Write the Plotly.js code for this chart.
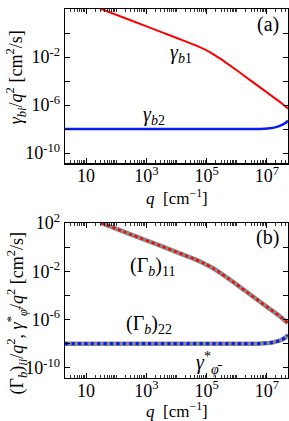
<!DOCTYPE html>
<html>
<head>
<meta charset="utf-8">
<script src="https://cdn.plot.ly/plotly-3.0.1.min.js"></script>
<style>html,body{margin:0;padding:0;background:#fff;}#chart{width:289px;height:421px;}</style>
</head>
<body>
<div id="chart"></div>
<script>
// ---- data ----
const qB1 = [31.6, 316, 3162, 19953, 39811, 79433, 158489, 281838, 562341, 1e6, 3.16e6, 1e7, 3.16e7, 5.0e7];
const gammaB1 = [100, 11, 1.2, 0.20, 0.102, 0.047, 0.0186, 7.4e-3, 2.2e-3, 7.8e-4, 9.3e-5, 1.12e-5, 1.35e-6, 5.0e-7];
const qB2 = [2, 1e3, 1e6, 5.0e6, 7.9e6, 1.26e7, 2.0e7, 2.8e7, 4.0e7, 5.0e7];
const gammaB2 = [1e-8, 1e-8, 1e-8, 1.0e-8, 1.05e-8, 1.15e-8, 1.45e-8, 1.9e-8, 3.0e-8, 5.0e-8];

const xTickVals = [10, 1e3, 1e5, 1e7];
const xTickText = ['10', '10<sup>3</sup>', '10<sup>5</sup>', '10<sup>7</sup>'];
const yTickVals = [1e2, 1e-2, 1e-6, 1e-10];
const yTickText = ['10<sup>2</sup>', '10<sup>-2</sup>', '10<sup>-6</sup>', '10<sup>-10</sup>'];
const yMinorVals = [1, 1e-4, 1e-8];

// minor x tick positions: unlabeled decades and 2..9 within each decade
const xMinor = [100, 1e4, 1e6];
for (let e = 0; e <= 7; e++) for (let m = 2; m <= 9; m++) xMinor.push(m * Math.pow(10, e));

const FONT = 'Liberation Serif, Times New Roman, serif';
const RED = '#ff0000', BLUE = '#0a1cf5', GRAY = '#8a8a8a';

const traces = [
  {x: qB1, y: gammaB1, xaxis: 'x', yaxis: 'y', mode: 'lines', line: {color: RED, width: 2, shape: 'spline', smoothing: 0.8}, hoverinfo: 'skip'},
  {x: qB2, y: gammaB2, xaxis: 'x', yaxis: 'y', mode: 'lines', line: {color: BLUE, width: 2.5, shape: 'spline', smoothing: 0.8}, hoverinfo: 'skip'},
  {x: qB1, y: gammaB1, xaxis: 'x2', yaxis: 'y2', mode: 'lines', line: {color: GRAY, width: 4.5, shape: 'spline', smoothing: 0.8}, hoverinfo: 'skip'},
  {x: qB2, y: gammaB2, xaxis: 'x2', yaxis: 'y2', mode: 'lines', line: {color: GRAY, width: 4.5, shape: 'spline', smoothing: 0.8}, hoverinfo: 'skip'},
  {x: qB1, y: gammaB1, xaxis: 'x2', yaxis: 'y2', mode: 'lines', line: {color: RED, width: 2.5, dash: 'dot', shape: 'spline', smoothing: 0.8}, hoverinfo: 'skip'},
  {x: qB2, y: gammaB2, xaxis: 'x2', yaxis: 'y2', mode: 'lines', line: {color: BLUE, width: 3.2, dash: 'dot', shape: 'spline', smoothing: 0.8}, hoverinfo: 'skip'}
];

function xAxis(anchor) {
  return {
    anchor: anchor, type: 'log', range: [0.3, 7.7],
    tickmode: 'array', tickvals: xTickVals, ticktext: xTickText,
    ticks: 'inside', ticklen: 5, tickwidth: 1, tickcolor: '#000',
    ticklabelstandoff: -4,
    minor: {tickmode: 'array', tickvals: xMinor, ticks: 'inside', ticklen: 3, tickwidth: 0.8, tickcolor: '#000', showgrid: false},
    showline: true, linecolor: '#000', linewidth: 1.3, mirror: 'ticks',
    showgrid: false, zeroline: false,
    tickfont: {family: FONT, size: 18, color: '#000'}
  };
}
function yAxis(anchor, domain) {
  return {
    anchor: anchor, domain: domain, type: 'log', range: [-10.85, 2],
    tickmode: 'array', tickvals: yTickVals, ticktext: yTickText,
    ticks: 'inside', ticklen: 5, tickwidth: 1, tickcolor: '#000',
    minor: {tickmode: 'array', tickvals: yMinorVals, ticks: 'inside', ticklen: 5, tickwidth: 1, tickcolor: '#000', showgrid: false},
    showline: true, linecolor: '#000', linewidth: 1.3, mirror: 'ticks',
    showgrid: false, zeroline: false,
    tickfont: {family: FONT, size: 18, color: '#000'}
  };
}

const annFont = {family: FONT, size: 20, color: '#000'};
const titleFont = {family: FONT, size: 18, color: '#000'};
const xTitleFont = {family: FONT, size: 17, color: '#000'};
function ann(text, xref, yref, x, y, extra) {
  return Object.assign({text: text, xref: xref, yref: yref, x: x, y: y, showarrow: false,
    xanchor: 'center', yanchor: 'middle', font: annFont}, extra || {});
}
const qTitle = '<i>q</i>  [cm<sup>−1</sup>]';
const layout = {
  width: 289, height: 421,
  margin: {l: 65, r: 1, t: 9, b: 43},
  paper_bgcolor: '#fff', plot_bgcolor: '#fff',
  showlegend: false,
  xaxis: xAxis('y'),
  yaxis: yAxis('x', [0.582, 1]),
  xaxis2: xAxis('y2'),
  yaxis2: yAxis('x2', [0, 0.42]),
  annotations: [
    // axis titles
    ann(qTitle, 'paper', 'paper', 0.5, 0.491, {font: xTitleFont}),
    ann(qTitle, 'paper', 'paper', 0.5, -0.086, {font: xTitleFont}),
    ann('<i>γ<sub>bi</sub></i>/<i>q</i><sup>2</sup> [cm<sup>2</sup>/s]', 'paper', 'paper', -0.218, 0.816, {font: titleFont, textangle: -90}),
    ann('(Γ<sub><i>b</i></sub>)<sub><i>ii</i></sub>/<i>q</i><sup>2</sup>, <i>γ</i><sup>*</sup><sub><i>φ̄</i></sub>/<i>q</i><sup>2</sup> [cm<sup>2</sup>/s]', 'paper', 'paper', -0.218, 0.176, {font: titleFont, textangle: -90}),
    // panel labels and curve labels
    ann('(a)', 'paper', 'paper', 0.910, 0.959),
    ann('<i>γ<sub>b</sub></i><sub>1</sub>', 'x', 'y', 4.14, -1.72),
    ann('<i>γ<sub>b</sub></i><sub>2</sub>', 'x', 'y', 3.24, -6.84),
    ann('(b)', 'paper', 'paper', 0.910, 0.380),
    ann('(Γ<sub><i>b</i></sub>)<sub>11</sub>', 'x2', 'y2', 3.2, -1.6),
    ann('(Γ<sub><i>b</i></sub>)<sub>22</sub>', 'x2', 'y2', 3.1, -6.4),
    ann('<i>γ</i><sup>*</sup><sub><i>φ̄</i></sub>', 'x2', 'y2', 5.1, -9.6)
  ]
};

Plotly.newPlot('chart', traces, layout, {staticPlot: true, displayModeBar: false});
</script>
</body>
</html>
